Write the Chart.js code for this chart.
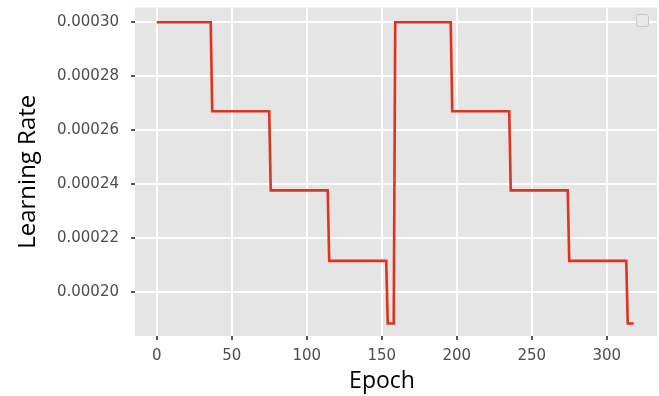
<!DOCTYPE html>
<html>
<head>
<meta charset="utf-8">
<script src="https://cdn.jsdelivr.net/npm/chart.js@4/dist/chart.umd.min.js"></script>
<style>
  html, body { margin: 0; padding: 0; background: #fff; }
  #wrap { width: 659px; height: 396px; }
</style>
</head>
<body>
<div id="wrap"><canvas id="lrCanvas" width="659" height="396"></canvas></div>
<script>
// step schedule (epoch, learning rate at the corners)
const epochs = [0, 36, 37, 75, 76, 114, 115, 153, 154, 158, 159, 196, 197, 235, 236, 274, 275, 313, 314, 318];
const learningRate = [0.0003, 0.0003, 0.000267, 0.000267, 0.00023763, 0.00023763, 0.00021149, 0.00021149,
    0.00018823, 0.00018823, 0.0003, 0.0003, 0.000267, 0.000267, 0.00023763, 0.00023763,
    0.00021149, 0.00021149, 0.00018823, 0.00018823];
const xTicks = [0, 50, 100, 150, 200, 250, 300];
const yTicks = [0.0002, 0.00022, 0.00024, 0.00026, 0.00028, 0.0003];

function initLrChart() {
    const ctx = document.getElementById('lrCanvas').getContext('2d');

    const panelBg = {
        id: 'panelBg',
        beforeDraw(chart) {
            const a = chart.chartArea;
            const c = chart.ctx;
            c.save();
            c.fillStyle = '#E5E5E5';
            c.fillRect(a.left, a.top, a.right - a.left, a.bottom - a.top);
            c.restore();
        },
        afterDraw(chart) {
            const c = chart.ctx;
            c.save();
            // empty legend box (top right)
            c.beginPath();
            c.roundRect(636.5, 14.5, 12, 12, 2.5);
            c.fillStyle = '#E9E9E9';
            c.fill();
            c.strokeStyle = '#C6C6C6';
            c.lineWidth = 1;
            c.stroke();
            // x axis title
            c.fillStyle = '#000';
            c.font = '23px "Open Sans"';
            c.textAlign = 'center';
            c.textBaseline = 'alphabetic';
            c.fillText('Epoch', 382, 388);
            c.restore();
        }
    };

    const data = epochs.map((e, i) => ({ x: e, y: learningRate[i] }));

    new Chart(ctx, {
        type: 'line',
        data: {
            datasets: [{
                data: data,
                borderColor: '#E2311D',
                borderWidth: 2.6,
                pointRadius: 0,
                fill: false,
                tension: 0
            }]
        },
        options: {
            responsive: false,
            animation: false,
            parsing: false,
            layout: { padding: { top: 7.5, right: 2, left: 0, bottom: 0 } },
            plugins: {
                legend: { display: false },
                tooltip: { enabled: false }
            },
            scales: {
                x: {
                    type: 'linear',
                    min: -14.47,
                    max: 333.5,
                    afterBuildTicks: axis => { axis.ticks = xTicks.map(v => ({ value: v })); },
                    afterFit: axis => {
                        axis.height = 60;
                        axis.paddingLeft = 0;
                        axis.paddingRight = 0;
                    },
                    grid: { color: '#FFFFFF', lineWidth: 2, tickColor: '#555', tickLength: 4, drawTicks: true },
                    border: { display: false },
                    ticks: {
                        color: '#4D4D4D',
                        font: { family: 'DejaVu Sans', size: 15 },
                        padding: 7,
                        maxRotation: 0,
                        callback: v => v
                    }
                },
                y: {
                    type: 'linear',
                    min: 0.0001836,
                    max: 0.0003055,
                    afterBuildTicks: axis => { axis.ticks = yTicks.map(v => ({ value: v })); },
                    afterFit: axis => {
                        axis.width = 135;
                        axis.paddingTop = 0;
                        axis.paddingBottom = 0;
                    },
                    grid: { color: '#FFFFFF', lineWidth: 2, tickColor: '#555', tickLength: 4, drawTicks: true },
                    border: { display: false },
                    ticks: {
                        color: '#4D4D4D',
                        font: { family: 'DejaVu Sans', size: 15 },
                        padding: 12,
                        callback: v => Number(v).toFixed(5)
                    },
                    title: {
                        display: true,
                        text: 'Learning Rate',
                        color: '#000',
                        font: { family: 'Open Sans', size: 24 },
                        padding: { top: 14, bottom: 0 }
                    }
                }
            }
        },
        plugins: [panelBg]
    });
}

if (typeof Chart !== 'undefined') {
    initLrChart();
} else {
    window.addEventListener('load', initLrChart);
}
</script>
</body>
</html>
